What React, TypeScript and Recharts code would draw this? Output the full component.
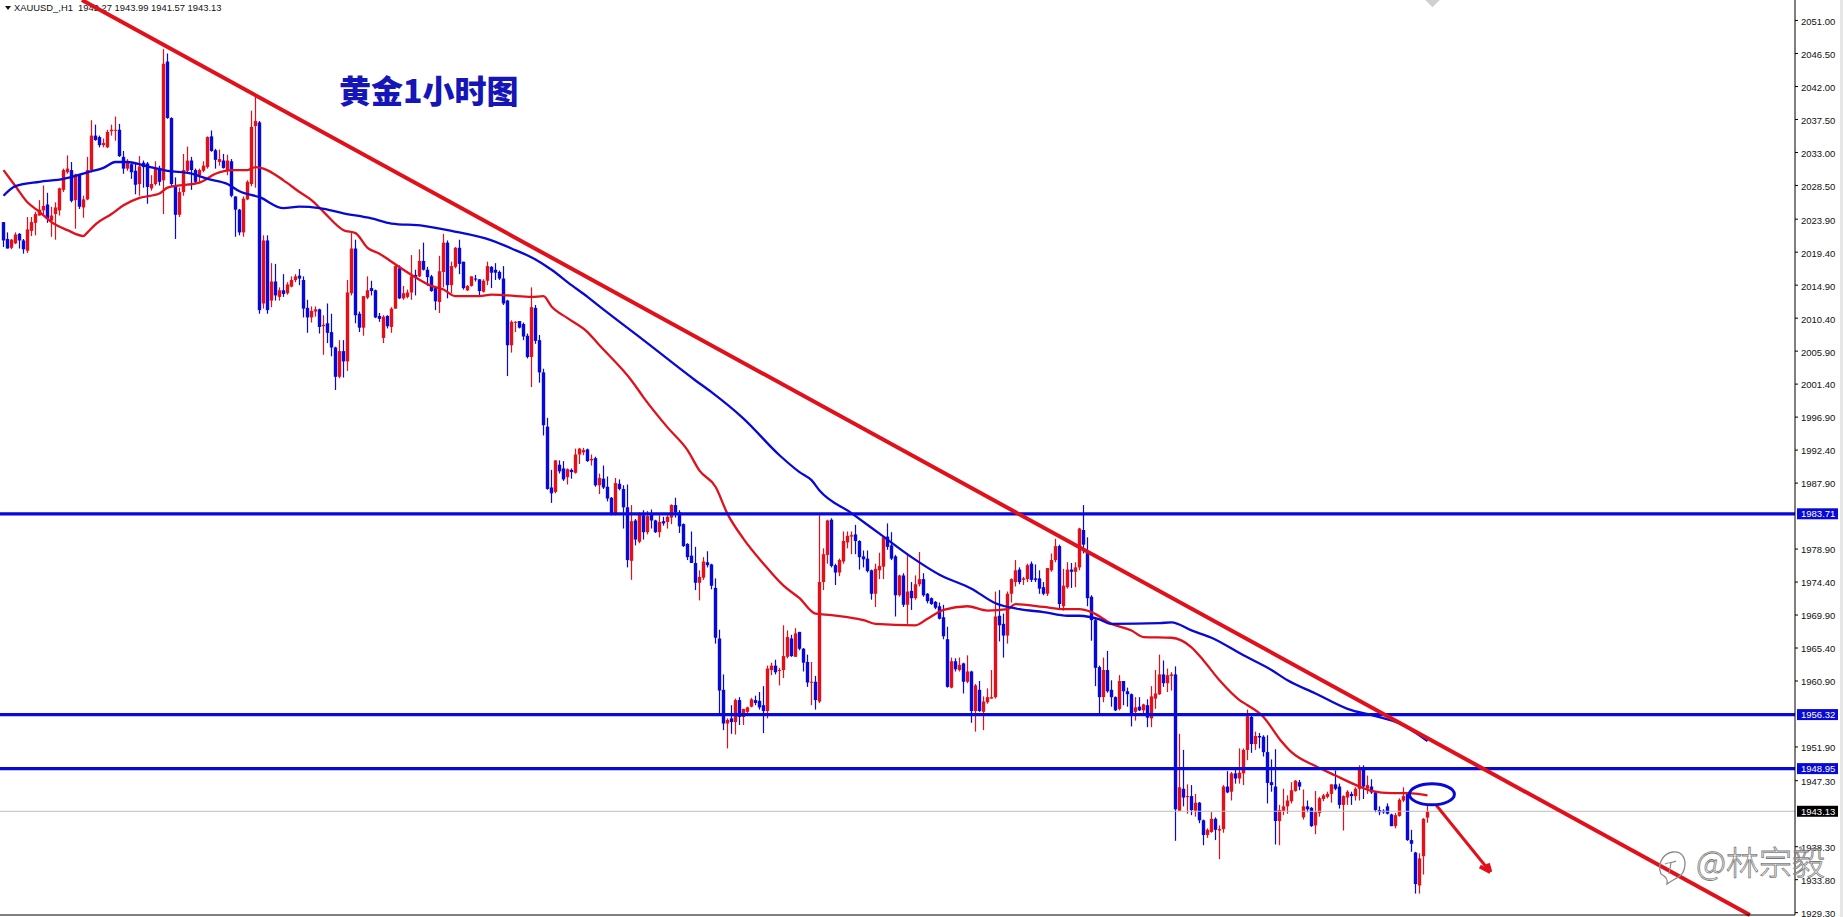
import React from "react";
import { ComposedChart, Bar, Line, XAxis, YAxis, ReferenceLine, ReferenceDot } from "recharts";

const opens = [
2023.5,2021.2,2020.0,2020.6,2021.9,2021.0,2019.6,2022.3,2023.4,2024.4,2025.1,2025.9,2023.7,2024.6,2025.1,2027.9,2030.3,2030.6,2026.5,2030.0,
2025.5,2026.6,2030.6,2035.3,2035.1,2034.0,2033.7,2035.9,2036.0,2036.1,2032.4,2030.8,2031.4,2030.5,2028.7,2031.6,2031.5,2028.1,2028.7,2030.9,
2029.2,2045.4,2037.7,2028.4,2024.5,2027.6,2030.5,2031.9,2030.6,2029.9,2030.5,2031.0,2035.2,2033.3,2031.7,2031.9,2030.5,2031.8,2027.0,2025.2,
2022.1,2026.6,2028.7,2036.6,2037.1,2012.4,2021.0,2012.8,2015.4,2013.3,2014.2,2013.8,2014.7,2015.6,2016.2,2015.6,2011.8,2010.5,2011.3,2011.6,
2009.3,2009.7,2008.5,2006.4,2002.4,2005.9,2004.5,2013.8,2019.9,2011.0,2009.1,2013.2,2014.5,2014.2,2010.7,2007.7,2010.7,2009.2,2011.7,2017.2,
2013.1,2013.3,2013.9,2016.3,2016.1,2018.2,2017.0,2016.1,2014.5,2012.6,2016.7,2020.7,2014.9,2017.4,2020.0,2018.1,2014.2,2014.8,2015.8,2015.7,
2014.0,2015.5,2017.4,2017.0,2016.7,2015.8,2012.8,2006.7,2009.8,2010.0,2009.6,2008.0,2005.1,2011.8,2007.4,2003.0,1995.6,1987.3,1986.7,1990.4,
1989.9,1988.7,1989.7,1989.3,1991.8,1992.1,1992.5,1991.0,1991.3,1987.6,1988.5,1987.4,1985.9,1983.6,1987.8,1987.1,1984.6,1977.3,1982.8,1979.9,
1983.5,1981.2,1983.7,1982.8,1981.2,1982.7,1982.6,1983.2,1984.9,1983.9,1982.3,1979.6,1978.0,1977.0,1974.3,1975.0,1977.1,1976.8,1973.6,1966.7,
1959.7,1955.1,1955.8,1955.3,1958.3,1956.0,1956.7,1957.4,1958.3,1958.2,1957.6,1956.8,1962.4,1963.0,1962.3,1962.4,1964.2,1966.7,1964.2,1967.6,
1965.3,1963.5,1960.7,1960.8,1958.1,1974.4,1978.1,1982.9,1976.7,1975.7,1977.2,1979.8,1980.6,1980.9,1980.0,1977.9,1977.6,1976.0,1972.8,1976.0,
1976.5,1980.6,1979.4,1977.9,1972.6,1975.3,1971.3,1973.2,1972.2,1974.1,1974.8,1972.8,1972.2,1971.7,1971.1,1969.6,1966.6,1960.0,1963.6,1962.4,
1963.3,1960.8,1962.2,1956.8,1959.7,1956.7,1958.0,1958.5,1958.7,1969.8,1968.7,1967.1,1972.8,1974.4,1976.1,1974.7,1974.8,1976.9,1974.9,1974.9,
1973.7,1972.8,1976.0,1977.4,1979.3,1971.1,1973.7,1976.1,1975.8,1976.4,1981.5,1978.5,1972.4,1969.2,1962.8,1958.7,1962.4,1959.7,1958.7,1957.1,
1960.9,1959.5,1959.1,1956.7,1957.4,1956.9,1957.6,1955.8,1958.5,1959.1,1961.8,1960.6,1961.6,1961.8,1943.2,1946.2,1945.1,1945.2,1943.2,1944.3,
1941.9,1939.9,1940.3,1942.1,1940.5,1940.7,1946.5,1945.8,1948.3,1947.6,1948.3,1951.5,1956.0,1952.3,1953.4,1953.3,1951.2,1947.1,1946.5,1941.8,
1943.2,1943.8,1944.5,1945.9,1947.1,1942.3,1943.8,1943.6,1941.2,1942.9,1944.8,1945.1,1945.5,1946.8,1946.5,1944.0,1945.0,1945.5,1945.2,1946.2,
1949.0,1946.2,1946.5,1945.7,1943.3,1943.2,1943.8,1942.7,1941.1,1942.5,1944.6,1945.5,1939.2,1937.5,1933.0,1937.0,1942.27,
];
const highs = [
2023.5,2022.1,2021.2,2022.1,2022.0,2021.2,2024.2,2024.2,2024.9,2026.5,2028.5,2027.5,2025.6,2026.2,2028.2,2030.8,2032.6,2031.7,2030.1,2030.0,
2027.1,2032.4,2037.4,2036.8,2035.3,2034.9,2036.1,2036.8,2037.9,2036.9,2033.2,2032.1,2031.5,2031.5,2032.5,2031.9,2031.7,2029.9,2031.8,2031.2,
2047.1,2046.5,2037.8,2029.6,2028.2,2032.8,2033.8,2032.4,2030.8,2030.8,2031.8,2035.2,2036.0,2033.5,2033.4,2032.8,2032.7,2032.1,2027.0,2025.3,
2027.0,2029.2,2038.7,2040.8,2037.3,2021.7,2021.7,2017.9,2017.8,2014.6,2016.4,2015.3,2016.1,2016.4,2017.1,2016.1,2012.9,2012.0,2012.0,2011.7,
2010.8,2012.4,2011.0,2006.5,2007.4,2007.4,2015.6,2022.0,2021.1,2011.3,2013.4,2016.1,2015.5,2014.3,2011.1,2010.8,2010.8,2011.9,2017.6,2017.6,
2014.8,2014.3,2019.0,2017.0,2019.8,2020.7,2017.4,2016.3,2014.6,2018.9,2021.9,2021.0,2018.1,2020.1,2021.1,2018.1,2014.9,2016.1,2016.3,2015.7,
2015.7,2018.1,2017.5,2017.9,2016.9,2017.5,2012.9,2010.1,2010.0,2010.0,2009.8,2008.3,2014.6,2012.2,2008.1,2003.5,1996.8,1989.7,1991.0,1991.0,
1990.9,1989.9,1989.9,1992.6,1992.7,1992.7,1992.6,1991.8,1991.5,1989.2,1990.3,1988.8,1986.0,1988.6,1988.4,1987.6,1987.7,1984.9,1983.0,1983.9,
1984.2,1984.1,1984.3,1982.9,1983.5,1983.3,1983.5,1985.0,1985.9,1984.2,1982.4,1979.7,1981.3,1979.2,1976.0,1977.8,1978.6,1976.9,1974.9,1967.9,
1961.8,1955.8,1957.6,1958.5,1958.7,1957.1,1957.4,1958.6,1958.9,1959.4,1960.2,1963.0,1963.4,1963.8,1962.7,1968.5,1967.8,1967.2,1968.1,1967.6,
1965.4,1964.5,1963.5,1961.6,1983.5,1979.0,1982.9,1983.1,1976.9,1977.6,1981.3,1981.3,1981.3,1982.2,1980.1,1978.7,1978.7,1976.1,1976.9,1978.4,
1980.6,1982.4,1981.2,1978.1,1975.4,1975.6,1978.2,1974.4,1975.3,1978.5,1975.6,1972.9,1972.3,1971.8,1971.6,1971.3,1968.3,1964.1,1964.0,1964.1,
1963.4,1964.4,1962.3,1960.5,1960.9,1958.8,1959.9,1962.4,1973.1,1973.3,1970.1,1973.1,1974.9,1977.4,1976.4,1975.1,1976.9,1977.2,1976.8,1976.0,
1974.4,1976.3,1978.3,1980.3,1979.5,1976.2,1977.1,1977.0,1977.1,1981.8,1984.9,1980.5,1972.6,1969.4,1963.0,1964.1,1965.0,1961.0,1958.8,1961.7,
1960.9,1960.0,1959.2,1958.7,1958.7,1957.8,1958.4,1960.2,1962.4,1964.5,1963.7,1962.6,1962.1,1962.9,1953.7,1951.5,1946.8,1946.7,1945.5,1944.4,
1942.0,1940.8,1943.0,1942.3,1941.2,1946.7,1948.6,1948.5,1949.0,1951.7,1951.7,1957.0,1956.2,1954.0,1953.8,1953.5,1953.5,1950.2,1951.6,1944.0,
1946.2,1945.3,1947.1,1947.4,1947.4,1946.1,1944.6,1943.7,1945.9,1945.1,1945.5,1945.8,1946.8,1948.7,1946.9,1945.3,1946.0,1945.8,1946.4,1949.4,
1949.4,1948.0,1947.5,1945.8,1943.8,1943.4,1944.2,1942.8,1942.9,1944.9,1946.4,1945.5,1940.6,1937.6,1937.4,1942.2,1943.99,
];
const lows = [
2020.1,2019.9,2019.8,2020.5,2019.9,2019.2,2019.3,2021.6,2021.7,2024.4,2024.4,2023.4,2021.5,2021.1,2024.4,2027.6,2030.1,2026.2,2022.6,2025.3,
2024.1,2026.5,2030.3,2034.6,2033.7,2033.7,2033.6,2035.3,2034.6,2032.4,2030.1,2030.5,2029.4,2027.3,2027.1,2028.2,2026.0,2027.8,2028.5,2028.5,
2024.6,2037.6,2028.4,2021.2,2024.2,2027.1,2030.3,2027.9,2028.7,2029.0,2030.3,2030.8,2033.1,2030.8,2031.2,2030.8,2029.9,2026.9,2021.5,2021.7,
2021.5,2026.5,2028.4,2028.2,2011.0,2011.7,2011.0,2011.9,2012.8,2012.8,2013.3,2013.6,2014.6,2015.3,2014.9,2010.5,2008.4,2009.8,2010.6,2008.3,
2005.4,2007.0,2005.2,2000.6,2002.2,2002.3,2003.2,2013.5,2009.7,2008.5,2008.0,2013.0,2013.5,2010.4,2009.9,2007.0,2009.0,2008.4,2011.7,2013.0,
2012.9,2013.1,2012.9,2013.5,2016.0,2016.9,2014.8,2014.0,2011.5,2011.1,2014.6,2013.1,2013.8,2017.2,2016.4,2014.3,2014.1,2014.7,2015.4,2013.5,
2013.9,2014.9,2014.5,2015.6,2015.6,2012.2,2002.5,2005.7,2008.5,2009.0,2007.4,2004.9,2001.0,2006.9,2001.6,1994.4,1987.0,1985.2,1986.5,1989.2,
1988.2,1987.7,1988.5,1989.2,1990.5,1991.7,1990.8,1990.3,1987.4,1986.4,1987.1,1985.4,1983.5,1983.5,1986.9,1981.7,1976.4,1974.7,1979.4,1979.7,
1980.2,1980.9,1981.7,1981.1,1980.5,1982.1,1981.7,1982.3,1983.2,1981.1,1979.2,1977.4,1977.0,1973.3,1971.9,1974.7,1976.4,1973.4,1966.0,1956.4,
1954.2,1951.7,1953.7,1953.6,1954.9,1954.9,1956.5,1957.3,1957.6,1957.0,1953.8,1955.8,1961.7,1961.8,1960.3,1961.3,1964.0,1964.2,1964.2,1965.1,
1962.2,1960.1,1957.6,1957.0,1957.9,1973.3,1976.9,1976.4,1974.0,1975.2,1976.9,1979.0,1978.2,1978.2,1976.1,1976.4,1975.7,1972.0,1971.0,1974.8,
1974.8,1978.8,1977.4,1969.7,1972.4,1971.0,1968.7,1970.6,1972.0,1973.8,1972.4,1971.5,1971.3,1970.7,1969.3,1966.6,1960.0,1959.9,1962.2,1962.2,
1959.2,1960.6,1955.2,1954.0,1956.7,1954.2,1957.8,1958.5,1958.5,1966.3,1964.1,1966.0,1971.6,1973.8,1974.1,1974.0,1974.4,1974.4,1974.4,1972.8,
1972.6,1972.5,1975.8,1977.1,1970.6,1970.5,1973.5,1973.6,1973.7,1976.0,1978.3,1971.1,1966.4,1960.2,1956.3,1958.0,1959.3,1957.4,1956.8,1956.9,
1957.6,1957.4,1954.7,1955.5,1956.8,1956.4,1954.6,1954.6,1957.1,1959.0,1960.1,1959.4,1959.6,1939.1,1943.2,1943.8,1942.8,1942.6,1942.4,1941.5,
1938.5,1939.5,1940.2,1939.2,1936.6,1940.2,1945.6,1944.6,1946.9,1946.9,1946.7,1950.1,1951.1,1951.5,1951.7,1950.6,1944.2,1945.8,1938.6,1938.5,
1942.6,1942.8,1944.2,1945.8,1946.0,1942.0,1943.0,1941.0,1940.0,1942.4,1944.5,1944.9,1944.3,1946.0,1943.5,1940.5,1944.0,1944.0,1944.6,1944.6,
1944.8,1945.5,1945.5,1943.0,1942.6,1942.8,1942.7,1941.1,1940.8,1942.4,1944.4,1939.1,1937.6,1931.9,1931.9,1934.5,1941.57,
];
const closes = [
2021.0,2019.9,2021.1,2021.8,2021.0,2019.8,2022.5,2023.5,2024.6,2025.2,2025.7,2024.0,2024.4,2025.5,2028.1,2030.6,2030.8,2026.4,2030.0,2025.6,
2026.6,2030.6,2035.3,2034.7,2034.0,2034.3,2035.8,2036.1,2036.1,2032.5,2030.8,2031.6,2030.3,2028.6,2031.1,2031.0,2028.3,2028.7,2030.8,2029.0,
2045.1,2037.7,2028.7,2024.5,2027.6,2030.6,2031.9,2030.6,2029.0,2030.6,2031.2,2035.1,2033.2,2032.0,2032.1,2030.9,2031.9,2027.1,2025.2,2022.1,
2026.7,2029.0,2036.5,2037.3,2011.5,2021.0,2011.5,2015.4,2013.5,2014.2,2013.7,2015.0,2015.6,2016.1,2015.8,2011.7,2010.5,2011.4,2011.6,2009.2,
2009.5,2008.4,2006.4,2002.4,2005.9,2004.5,2013.9,2019.9,2010.8,2009.1,2013.4,2014.2,2014.1,2010.5,2010.3,2010.6,2009.3,2011.7,2017.5,2013.1,
2013.8,2013.9,2016.1,2016.0,2018.2,2017.0,2016.0,2014.1,2012.7,2016.8,2020.7,2014.9,2017.5,2020.0,2017.8,2014.5,2014.8,2016.1,2015.7,2014.1,
2015.5,2017.5,2016.6,2016.6,2015.8,2012.4,2006.7,2009.9,2009.9,2009.1,2007.9,2005.1,2011.9,2007.3,2003.0,1995.8,1987.1,1986.5,1991.0,1989.5,
1988.4,1989.8,1989.4,1991.8,1992.6,1992.4,1990.9,1991.2,1987.6,1988.6,1987.3,1985.8,1983.6,1987.9,1987.1,1984.6,1977.4,1982.7,1980.2,1983.8,
1981.2,1983.4,1982.8,1981.2,1982.6,1982.4,1983.3,1984.9,1983.9,1982.0,1979.3,1977.8,1977.0,1974.3,1975.1,1977.2,1976.7,1973.9,1966.8,1959.6,
1955.1,1955.6,1955.3,1958.3,1956.0,1957.1,1957.3,1958.4,1957.9,1957.3,1956.8,1962.6,1963.0,1962.1,1962.4,1964.3,1966.9,1964.3,1967.4,1965.3,
1963.4,1960.7,1960.8,1958.3,1974.4,1978.2,1982.8,1976.6,1975.7,1977.4,1980.0,1980.7,1980.8,1980.0,1977.8,1977.5,1975.9,1972.8,1976.2,1976.6,
1980.5,1979.2,1977.6,1972.6,1975.3,1971.3,1973.1,1972.2,1974.1,1974.8,1972.6,1971.8,1971.4,1970.9,1969.4,1967.0,1960.1,1963.6,1962.5,1963.1,
1960.8,1962.2,1956.8,1960.3,1956.8,1958.1,1958.7,1958.7,1969.7,1968.5,1967.1,1972.8,1974.8,1976.0,1974.4,1974.9,1976.7,1974.7,1974.7,1973.5,
1972.8,1976.3,1977.4,1979.3,1971.4,1973.9,1976.1,1975.8,1976.4,1981.7,1979.5,1972.2,1969.2,1962.7,1958.7,1962.4,1959.5,1958.7,1956.9,1960.9,
1959.5,1959.1,1956.4,1957.3,1956.9,1957.7,1955.9,1958.8,1959.2,1961.8,1960.6,1961.7,1961.8,1943.4,1946.4,1945.0,1945.2,1943.3,1944.3,1941.9,
1939.9,1940.6,1942.1,1940.6,1940.7,1946.5,1945.7,1948.3,1947.6,1948.4,1951.5,1956.1,1952.3,1953.4,1953.2,1951.2,1947.0,1946.7,1941.8,1943.3,
1943.8,1944.6,1946.0,1947.3,1946.5,1943.8,1943.4,1941.1,1943.0,1944.9,1945.3,1945.5,1946.8,1946.2,1944.0,1945.2,1945.8,1945.2,1946.2,1949.0,
1946.5,1946.7,1945.7,1943.3,1943.0,1943.0,1942.8,1941.1,1942.6,1944.7,1945.2,1939.2,1938.7,1933.2,1936.7,1942.1,1943.13,
];

const redMaKnots: [number, number][] = [
[0,2030.6],[3,2028.4],[6,2026.2],[9,2024.9],[12,2023.5],[16,2022.4],[20,2021.6],[21,2022.1],[23,2023.2],[27,2024.6],[30,2025.8],[34,2026.8],[39,2027.4],[41,2028.2],[44,2028.5],[49,2028.9],[53,2030.1],[57,2030.6],[61,2030.6],[63,2031.0],[65,2030.8],[70,2029.2],[74,2027.6],
[77,2026.5],[80,2024.9],[85,2022.4],[88,2022.0],[91,2020.0],[94,2019.2],[97,2018.1],[102,2016.3],[107,2014.8],[110,2014.3],[113,2013.4],[119,2013.4],[122,2013.6],[126,2013.5],[132,2013.3],[135,2013.4],[137,2012.0],[141,2010.4],[146,2008.5],[149,2006.7],
[157,2001.9],[160,1999.6],[166,1995.5],[171,1992.4],[174,1989.6],[178,1987.4],[181,1983.7],[185,1980.3],[190,1976.9],[195,1973.9],[199,1972.2],
[203,1970.1],[207,1969.9],[211,1969.6],[215,1969.2],[218,1968.7],[228,1968.5],[231,1969.4],[235,1970.6],[241,1971.1],[246,1970.5],[251,1970.7],[253,1971.4],[260,1971.0],[265,1970.7],[269,1970.7],
[272,1970.3],[277,1968.7],[282,1967.8],[285,1966.9],[292,1966.8],[297,1965.5],[300,1963.7],[304,1961.0],[309,1958.3],[311,1957.6],[315,1956.0],[319,1953.0],[322,1951.2],[328,1949.3],[333,1948.0],[339,1946.5],[342,1945.9],[347,1945.6],[351,1945.6],[356,1945.3],
];
const blueMaKnots: [number, number][] = [
[0,2027.1],[3,2028.4],[9,2029.0],[15,2029.4],[21,2030.3],[25,2030.9],[28,2031.7],[31,2031.7],[36,2031.1],[41,2030.5],[47,2030.1],[51,2029.4],[56,2028.7],[59,2027.7],[64,2026.9],[70,2025.4],[74,2025.6],
[79,2025.4],[85,2024.7],[92,2024.0],[97,2023.3],[105,2023.0],[112,2022.3],[122,2021.0],[127,2019.9],[133,2018.4],[137,2017.0],[142,2014.9],[146,2013.3],[149,2012.0],[160,2007.4],
[173,2001.9],[177,2000.3],[185,1996.7],[194,1991.7],[199,1989.4],[202,1988.3],[204,1986.9],[212,1983.8],[219,1981.0],[227,1977.8],[234,1975.4],[242,1973.5],[248,1971.5],[254,1970.7],[260,1970.3],[266,1969.8],[269,1969.8],
[274,1969.3],[277,1968.7],[289,1968.8],[292,1968.9],[297,1967.8],[302,1966.8],[310,1964.4],[317,1962.4],[321,1961.0],[328,1959.2],[336,1957.1],[343,1956.1],[349,1955.1],[356,1952.7],
];

const priceTicks = [2051.0,2046.5,2042.0,2037.5,2033.0,2028.5,2023.9,2019.4,2014.9,2010.4,2005.9,2001.4,1996.9,1992.4,1987.9,1978.9,1974.4,1969.9,1965.4,1960.9,1951.9,1947.3,1938.3,1933.8,1929.3];
const timeTicks = [15,31,47,63,79,95,111,127,143,159,175,191,207,223,239,255,271,287,303,319,335,351,367,383,399,415,431,447];
const levels = [1983.71, 1956.32, 1948.95];
const lastPrice = 1943.13;
const trendLine = [{ x: 19.6, y: 2053.8 }, { x: 436.6, y: 1928.98 }];
const arrowShaft = [{ x: 358.2, y: 1943.95 }, { x: 371.7, y: 1934.84 }];
const arrowBarbA = [{ x: 369.1, y: 1935.6 }, { x: 371.7, y: 1934.84 }];
const arrowBarbB = [{ x: 371.1, y: 1936.0 }, { x: 371.7, y: 1934.84 }];
const circled = { x: 357.1, y: 1945.44 };

const RED = "#e2101a";
const BLUE = "#0808d8";
const FONT = "'Liberation Sans', Arial, sans-serif";

const rows = opens.map((o, i) => ({ i, o, c: closes[i], range: [lows[i], highs[i]] }));
const redRows = redMaKnots.map(([i, v]) => ({ i, v }));
const blueRows = blueMaKnots.map(([i, v]) => ({ i, v }));

function Candle(props: any) {
  const { x, y, width, height, payload } = props;
  const top = Math.min(y, y + height);
  const h = Math.abs(height);
  const [low, high] = payload.range;
  const toY = (p: number) => top + ((high - p) / (high - low)) * h;
  const up = payload.c >= payload.o;
  const color = up ? RED : BLUE;
  const bodyTop = toY(Math.max(payload.o, payload.c));
  const bodyBot = toY(Math.min(payload.o, payload.c));
  const cx = Math.floor(x + width / 2) + 0.5;
  return (
    <g>
      <rect x={cx - 0.6} y={top} width={1.2} height={h} fill={color} />
      <rect x={cx - 1.7} y={bodyTop} width={3.4} height={Math.max(1, bodyBot - bodyTop)} fill={color} />
    </g>
  );
}

function priceTag(text: string, bg: string) {
  return (props: any) => {
    const vb = props.viewBox;
    const right = vb.x + vb.width;
    return (
      <g>
        <rect x={right + 2} y={vb.y - 5.5} width={41} height={11} fill={bg} />
        <text x={right + 6} y={vb.y + 3.5} fill="#fff" fontSize={9.5} fontFamily={FONT}>{text}</text>
      </g>
    );
  };
}

const EllipseMark = (props: any) => (
  <ellipse cx={props.cx} cy={props.cy} rx={22.5} ry={10.5} fill="none" stroke={BLUE} strokeWidth={3} />
);

export default function App() {
  return (
    <div style={{ position: "absolute", left: 0, top: 0, width: 1843, height: 917, background: "#fff", overflow: "hidden" }}>
      <div style={{ position: "absolute", left: 5, top: 6, width: 0, height: 0, borderLeft: "3px solid transparent", borderRight: "3px solid transparent", borderTop: "4px solid #111" }} />
      <div style={{ position: "absolute", left: 14, top: 2, fontFamily: FONT, fontSize: 9.4, color: "#111", whiteSpace: "pre" }}>
        {"XAUUSD_,H1  1942.27 1943.99 1941.57 1943.13"}
      </div>
      <div style={{ position: "absolute", left: 339, top: 69, fontFamily: "'Noto Sans CJK SC', sans-serif", fontWeight: 900, fontSize: 32, lineHeight: "40px", color: "#1515b8", whiteSpace: "pre" }}>
        黄金1小时图
      </div>
      <div style={{ position: "absolute", left: 1427, top: -6, width: 11, height: 11, background: "#cfcfcf", transform: "rotate(45deg)" }} />
      <div style={{ position: "absolute", left: 1840, top: 0, width: 3, height: 917, background: "#e6e6e6" }} />

      <div style={{ position: "absolute", left: 0, top: 0 }}>
        <ComposedChart width={1843} height={917} data={rows} margin={{ top: 0, right: 0, bottom: 0, left: 0 }}>
          <XAxis
            dataKey="i"
            type="number"
            domain={[-0.875, 447.875]}
            allowDataOverflow
            ticks={timeTicks}
            interval={0}
            tick={false}
            tickSize={2}
            height={2}
            stroke="#000"
          />
          <YAxis
            orientation="right"
            type="number"
            domain={[1928.98, 2053.8]}
            allowDataOverflow
            ticks={priceTicks}
            interval={0}
            width={48}
            tickSize={3}
            tickMargin={3}
            stroke="#000"
            tick={{ fill: "#111", fontSize: 9.5, fontFamily: FONT, textAnchor: "start", dy: 1 }}
            tickFormatter={(v: number) => v.toFixed(2)}
          />
          <Bar dataKey="range" barSize={3} isAnimationActive={false} shape={<Candle />} />
          <Line data={redRows} dataKey="v" type="monotone" stroke={RED} strokeWidth={2.3} dot={false} activeDot={false} isAnimationActive={false} />
          <Line data={blueRows} dataKey="v" type="monotone" stroke={BLUE} strokeWidth={2.3} dot={false} activeDot={false} isAnimationActive={false} />
          <ReferenceLine y={lastPrice} stroke="#bdbdbd" strokeWidth={1} label={priceTag("1943.13", "#000")} />
          {levels.map((v) => (
            <ReferenceLine key={v} y={v} stroke={BLUE} strokeWidth={3.2} label={priceTag(v.toFixed(2), BLUE)} />
          ))}
          <ReferenceLine segment={trendLine} stroke={RED} strokeWidth={4} ifOverflow="visible" />
          <ReferenceLine segment={arrowShaft} stroke={RED} strokeWidth={3} ifOverflow="visible" />
          <ReferenceLine segment={arrowBarbA} stroke={RED} strokeWidth={4} ifOverflow="visible" />
          <ReferenceLine segment={arrowBarbB} stroke={RED} strokeWidth={4} ifOverflow="visible" />
          <ReferenceDot x={circled.x} y={circled.y} r={10} ifOverflow="visible" shape={<EllipseMark />} />
        </ComposedChart>
      </div>

      <svg style={{ position: "absolute", left: 1655, top: 850 }} width={34} height={36} viewBox="0 0 34 36">
        <path d="M6 24 C2 14 8 3 18 2 C28 1 32 10 29 20 C27 27 20 28 12 34 C13 30 12 27 6 24 Z" fill="none" stroke="#8a8a8a" strokeWidth={1.3} />
        <path d="M10 14 C14 12 18 13 21 11 M16 13 L14 24" fill="none" stroke="#8a8a8a" strokeWidth={1.2} />
      </svg>
      <div style={{ position: "absolute", left: 1696, top: 840, fontFamily: "'Noto Sans CJK SC', sans-serif", fontWeight: 300, fontSize: 33, lineHeight: "42px", color: "rgba(255,255,255,0.55)", WebkitTextStroke: "0.8px #7a7a7a", whiteSpace: "pre" }}>
        @林宗毅
      </div>
    </div>
  );
}
